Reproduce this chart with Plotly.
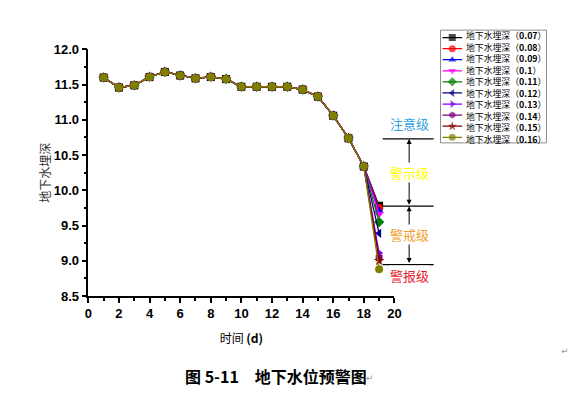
import plotly.graph_objects as go

W, H = 577, 412

# ---------------- data ----------------
days = list(range(1, 20))
common = [11.60, 11.46, 11.49, 11.61, 11.68, 11.63, 11.59, 11.61, 11.58, 11.47,
          11.47, 11.47, 11.47, 11.43, 11.33, 11.06, 10.74, 10.34]
rates = ["0.07", "0.08", "0.09", "0.1", "0.11", "0.12", "0.13", "0.14", "0.15", "0.16"]
day19 = [9.78, 9.75, 9.71, 9.66, 9.55, 9.39, 9.11, 9.05, 9.00, 8.88]
colors = ["#000000", "#FF0000", "#0000FF", "#FF00FF", "#008000",
          "#000080", "#8000FF", "#800080", "#800000", "#808000"]
symbols = ["square", "circle", "triangle-up", "triangle-down", "diamond",
           "triangle-left", "triangle-right", "hexagon", "star", "circle"]
levels = [10.73, 9.775, 8.947]
level_names = ["注意级", "警示级", "警戒级", "警报级"]
level_label_y = [10.95, 10.25, 9.375, 8.79]
level_colors = ["#33A3DC", "#FFFF00", "#F0A030", "#E8202A"]

CJK = "Noto Sans CJK SC"
ARIAL = "Liberation Sans"

def px(x):
    return x / W

def py(y):
    return 1 - y / H

fig = go.Figure()

# main series
for i, r in enumerate(rates):
    fig.add_trace(go.Scatter(
        x=days, y=common + [day19[i]],
        mode="lines+markers",
        line=dict(color=colors[i], width=1.3),
        marker=dict(symbol=symbols[i], size=8,
                    color=colors[i], line=dict(width=0)),
        name=f"地下水埋深（{r}）",
        showlegend=False, xaxis="x", yaxis="y",
    ))

# custom legend (drawn in its own small axes)
leg_y0 = 7.7
leg_dy = 11.5
for i, r in enumerate(rates):
    yy = leg_y0 + i * leg_dy
    fig.add_trace(go.Scatter(
        x=[2, 12, 22], y=[yy, yy, yy],
        mode="lines+markers",
        line=dict(color=colors[i], width=1.3),
        marker=dict(symbol=symbols[i], size=[0, 7, 0],
                    color=colors[i], line=dict(width=0)),
        showlegend=False, hoverinfo="skip", xaxis="x2", yaxis="y2",
    ))

legend_text = "<br>".join(f"地下水埋深（<b>{r}</b>）" for r in rates)
fig.add_annotation(
    x=24, y=leg_y0 + (len(rates) - 1) * leg_dy / 2, xref="x2", yref="y2",
    xanchor="left", yanchor="middle", align="left",
    text=legend_text, showarrow=False,
    font=dict(family=CJK, size=8.85, color="#000000"),
)

fig.add_shape(type="rect", xref="paper", yref="paper",
              x0=px(445), x1=px(553), y0=py(141), y1=py(24),
              line=dict(color="#8C8C8C", width=1), fillcolor="rgba(0,0,0,0)")

# warning level lines
for lv in levels:
    fig.add_shape(type="line", xref="paper", yref="y",
                  x0=px(386), x1=px(438), y0=lv, y1=lv,
                  line=dict(color="#000000", width=1.3))

# double arrows between levels
for j in range(len(levels) - 1):
    fig.add_annotation(
        x=px(413), y=levels[j], xref="paper", yref="y",
        ax=0, ay=levels[j + 1], axref="pixel", ayref="y",
        text="", showarrow=True, arrowhead=2, startarrowhead=2,
        arrowside="end+start", arrowsize=1, arrowwidth=1, arrowcolor="#000000",
    )

# level labels
for name, yy, c in zip(level_names, level_label_y, level_colors):
    fig.add_annotation(
        x=px(413), y=yy, xref="paper", yref="y", xanchor="center", yanchor="middle",
        text=name, showarrow=False, bgcolor="#FFFFFF", borderpad=0,
        font=dict(family=CJK, size=13, color=c),
    )

# caption
fig.add_annotation(
    x=px(182), y=py(383), xref="paper", yref="paper", xanchor="left", yanchor="middle",
    text="<b>图 5-11\u3000地下水位预警图</b>", showarrow=False,
    font=dict(family=CJK, size=16, color="#000000"),
)
fig.add_annotation(
    x=px(367), y=py(385), xref="paper", yref="paper", xanchor="left", yanchor="middle",
    text="↵", showarrow=False, font=dict(family="DejaVu Sans", size=9, color="#9A9A9A"),
)
fig.add_annotation(
    x=px(566), y=py(357), xref="paper", yref="paper", xanchor="left", yanchor="middle",
    text="↵", showarrow=False, font=dict(family="DejaVu Sans", size=9, color="#9A9A9A"),
)

axis_common = dict(
    showgrid=False, zeroline=False, showline=True, linecolor="#000000", linewidth=1.5,
    ticks="outside", ticklen=5, tickwidth=1.5, tickcolor="#000000",
    tickfont=dict(family=ARIAL, size=13, color="#000000", weight="bold"),
)

fig.update_layout(
    width=W, height=H,
    margin=dict(l=0, r=0, t=0, b=0),
    paper_bgcolor="#FFFFFF", plot_bgcolor="#FFFFFF",
    xaxis=dict(
        domain=[px(86), px(398)], range=[0, 20], tick0=0, dtick=2, anchor="y",
        minor=dict(dtick=1, ticks="outside", ticklen=3, tickwidth=1.5, tickcolor="#000000"),
        title=dict(text="时间 <b>(d)</b>", font=dict(family=CJK, size=12, color="#000000"), standoff=14),
        **axis_common,
    ),
    yaxis=dict(
        domain=[py(300), py(44)], range=[8.5, 12], tick0=8.5, dtick=0.5, tickformat=".1f", anchor="x",
        minor=dict(dtick=0.25, ticks="outside", ticklen=3, tickwidth=1.5, tickcolor="#000000"),
        title=dict(text="地下水埋深", font=dict(family=CJK, size=12, color="#333333"), standoff=0),
        **axis_common,
    ),
    xaxis2=dict(domain=[px(445), px(553)], range=[0, 108], visible=False, anchor="y2", fixedrange=True),
    yaxis2=dict(domain=[py(141), py(24)], range=[117, 0], visible=False, anchor="x2", fixedrange=True),
    showlegend=False,
)

fig.write_html("out.html")
